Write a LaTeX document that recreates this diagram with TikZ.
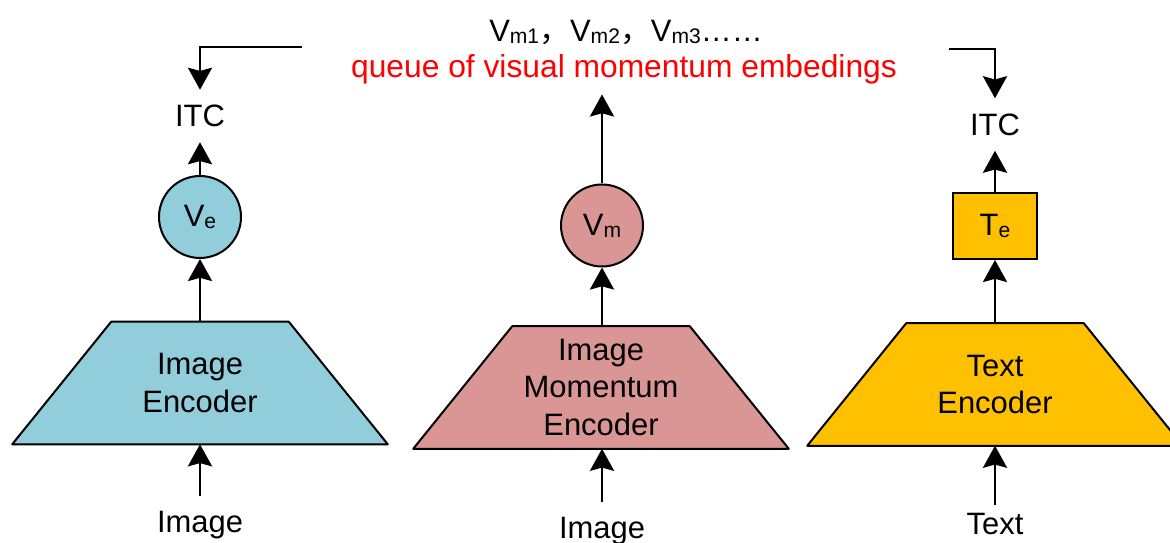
\documentclass[tikz,border=0pt]{standalone}
\usepackage{fontspec}
\setmainfont{Liberation Sans}
\newfontfamily\cjk{Noto Sans CJK SC}
\usetikzlibrary{arrows.meta,backgrounds}
\definecolor{encAzzurro}{HTML}{92CDDC}
\definecolor{encRosa}{HTML}{D99694}
\definecolor{encGiallo}{HTML}{FFC000}
\newcommand{\idx}[1]{\raisebox{-0.5mm}{\fontsize{15}{15}\selectfont #1}}
% Sagoma a trapezio dietro il nodo #1 (base larga in basso), colore #2.
\newcommand{\sagoma}[2]{%
  \begin{scope}[on background layer]
    \filldraw[fill=#2,line width=0.5mm,line join=round]
      (#1.south west) -- (#1.south east)
      -- ([xshift=-24.75mm]#1.north east) -- ([xshift=24.75mm]#1.north west) -- cycle;
  \end{scope}%
}

\begin{document}
\begin{tikzpicture}[x=0.25mm,y=-0.25mm,
  font=\fontsize{22}{27}\selectfont,
  freccia/.style={draw,line width=0.7mm,-{Stealth[length=5.5mm,width=6mm,inset=0.8mm]}},
  codificatore/.style={minimum width=93.75mm,minimum height=30.5mm,
    inner sep=0pt,align=center},
  vettore/.style={circle,draw,line width=0.5mm,minimum size=20.5mm,inner sep=0pt},
  etichetta/.style={inner sep=3.75mm}]
  \useasboundingbox (0,0) rectangle (1170,543);
  \clip (0,0) rectangle (1170,543);
  % Coda degli embedding di momentum, in alto al centro.
  \node[anchor=base] (coda) at (626,42) {V\idx{m1}{\cjk ，}V\idx{m2}{\cjk ，}V\idx{m3}……};
  \node[anchor=base,text=red,inner sep=2.4mm,font=\fontsize{22.6}{27}\selectfont]
    (codaNome) at (624,78) {queue of visual momentum embedings};
  % Colonna immagine.
  \node[codificatore] (encImg) at (200,383) {Image\\Encoder};
  \sagoma{encImg}{encAzzurro}
  \node[vettore,fill=encAzzurro] (ve) at (200,217) {V\idx{e}};
  \node[etichetta] (itcImg) at (200,116) {ITC};
  \node[etichetta,anchor=base] (inImg) at (200,533) {Image};
  \draw[freccia] (inImg.north) -- (encImg.south);
  \draw[freccia] (encImg.north) -- (ve.south);
  \draw[freccia] (ve.north) -- (itcImg.south);
  % Colonna momentum.
  \node[codificatore] (encMom) at (601,387.5) {Image\\Momentum\\Encoder};
  \sagoma{encMom}{encRosa}
  \node[vettore,fill=encRosa] (vm) at (602,225.5) {V\idx{m}};
  \node[etichetta,anchor=base] (inMom) at (602,539) {Image};
  \draw[freccia] (inMom.north) -- (inMom.north |- encMom.south);
  \draw[freccia] (vm.south |- encMom.north) -- (vm.south);
  \draw[freccia] (vm.north) -- (vm.north |- codaNome.south);
  % Colonna testo.
  \node[codificatore] (encTxt) at (995,384.5) {Text\\Encoder};
  \sagoma{encTxt}{encGiallo}
  \node[draw,line width=0.5mm,fill=encGiallo,minimum width=21mm,minimum height=16.5mm,
    inner sep=0pt] (te) at (995,226) {T\idx{e}};
  \node[etichetta] (itcTxt) at (995,124.5) {ITC};
  \node[etichetta,anchor=base,inner sep=2mm] (inTxt) at (995,535) {Text};
  \draw[freccia] (inTxt.north) -- (encTxt.south);
  \draw[freccia] (encTxt.north) -- (te.south);
  \draw[freccia] (te.north) -- (itcTxt.south);
  % La coda torna alle due teste ITC.
  \coordinate (codaSx) at (302,47);
  \coordinate (codaDx) at (949,49);
  \draw[freccia] (codaSx) -| (itcImg.north);
  \draw[freccia] (codaDx) -| (itcTxt.north);
\end{tikzpicture}
\end{document}
